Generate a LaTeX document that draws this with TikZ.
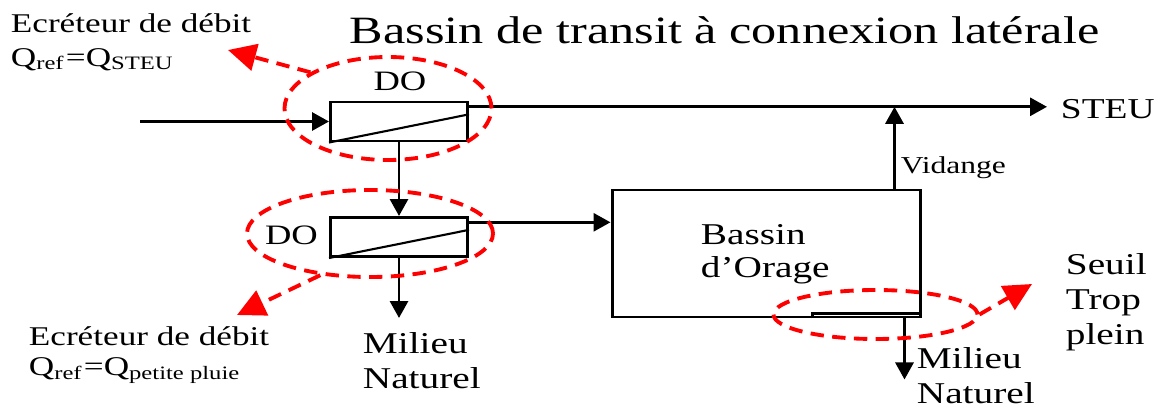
\documentclass[tikz,border=0pt]{standalone}
\usepackage{fontspec}
\setmainfont{Liberation Serif}
\usetikzlibrary{shapes.geometric,arrows.meta,calc,positioning}

\tikzset{
  box/.style={draw,line width=0.85pt,minimum width=1.37cm,minimum height=0.39cm,inner sep=0pt},
  flow/.style={line width=0.85pt,-{Triangle[length=0.17cm,width=0.18cm]}},
  zone/.style={ellipse,draw=red,line width=1.1pt,dash pattern=on 3.8pt off 2.4pt,inner sep=0pt},
  pointer/.style={red,line width=1.1pt,dash pattern=on 3.8pt off 2.4pt,-{Triangle[length=0.28cm,width=0.27cm]}},
  txt/.style={xscale=1.3,inner sep=0pt},
  lbl/.style={txt,font=\fontsize{8.6}{10}\selectfont,align=left},
  note/.style={txt,font=\fontsize{7.7}{9.7}\selectfont,align=left},
}

\begin{document}
\begin{tikzpicture}
  \useasboundingbox[fill=white] (0,0) rectangle (11.66,-4.07);

  \node[txt,anchor=base,font=\fontsize{11}{13}\selectfont] (title) at (7.245,-0.43)
    {Bassin de transit à connexion latérale};

  % deversoirs d'orage
  \node[box] (do1) at (3.99,-1.215) {};
  \node[box] (do2) at (3.99,-2.37) {};
  \node[txt,anchor=base,font=\fontsize{8}{10}\selectfont] (do1lbl) at (4.00,-0.90) {DO};
  \node[txt,anchor=base,font=\fontsize{8}{10}\selectfont] (do2lbl) at (2.915,-2.44) {DO};
  \draw[line width=0.6pt] (do1.south west) -- ($(do1.north east)!0.33!(do1.south east)$);
  \draw[line width=0.6pt] (do2.south west) -- ($(do2.north east)!0.33!(do2.south east)$);
  \coordinate (do1out) at ($(do1.north east)!0.15!(do1.south east)$);
  \coordinate (do2out) at ($(do2.north east)!0.15!(do2.south east)$);

  % bassin d'orage
  \node[draw,line width=0.85pt,minimum width=3.08cm,minimum height=1.27cm] (bassin) at (7.66,-2.535) {};
  \node[lbl,font=\fontsize{8.6}{9.4}\selectfont,anchor=west] (bassinlbl) at (7.00,-2.54) {Bassin\\d’Orage};
  \draw[line width=0.85pt] ($(bassin.south east)+(-1.09,0)$) |- ($(bassin.south east)+(0,0.05)$);

  \node[txt,anchor=base west,font=\fontsize{8.2}{10}\selectfont] (steu) at (10.60,-1.18) {STEU};
  \node[txt,anchor=base west,font=\fontsize{6.9}{9}\selectfont] (vidange) at (9.00,-1.73) {Vidange};
  \node[lbl,anchor=west] (mn1) at (3.62,-3.61) {Milieu\\Naturel};
  \node[lbl,anchor=west] (mn2) at (9.16,-3.76) {Milieu\\Naturel};
  \node[lbl,anchor=west] (seuil) at (10.65,-3.02) {Seuil\\Trop\\plein};
  \node[note,anchor=west] (ecr1) at (0.10,-0.42) {Ecréteur de débit\\Q\textsubscript{ref}=Q\textsubscript{STEU}};
  \node[note,font=\fontsize{7.7}{8.5}\selectfont,anchor=west] (ecr2) at (0.28,-3.55) {Ecréteur de débit\\Q\textsubscript{ref}=Q\textsubscript{petite pluie}};

  % ecoulements
  \coordinate (in) at (1.40,-1.215);
  \coordinate (vid) at ($(bassin.north east)+(-0.27,0)$);
  \coordinate (tp) at ($(bassin.south east)+(-0.17,0)$);
  \coordinate (mn1top) at (3.99,-3.18);
  \coordinate (mn2top) at ($(tp)+(0,-0.61)$);
  \draw[flow] (in) -- (do1.west);
  \draw[flow,shorten >=0.13cm] (do1out) -- (do1out -| steu.west);
  \draw[flow] (do1.south) -- (do2.north);
  \draw[flow] (do2out) -- (do2out -| bassin.west);
  \draw[flow] (do2.south) -- (mn1top);
  \draw[flow] (vid) -- (vid |- do1out);
  \draw[flow] (tp) -- (mn2top);

  % zones reperees
  \node[zone,minimum width=2.07cm,minimum height=1.03cm] (zone1) at (3.88,-1.085) {};
  \node[zone,minimum width=2.46cm,minimum height=0.87cm] (zone2) at (3.70,-2.335) {};
  \node[zone,minimum width=2.04cm,minimum height=0.49cm] (zone3) at (8.755,-3.145) {};
  \coordinate (tip1) at (2.28,-0.50);
  \coordinate (tip2) at (2.37,-3.15);
  \coordinate (tip3) at (10.32,-2.84);
  \draw[pointer] (zone1.155) -- (tip1);
  \draw[pointer] (zone2.220) -- (tip2);
  \draw[pointer] (zone3.east) -- (tip3);
\end{tikzpicture}
\end{document}
